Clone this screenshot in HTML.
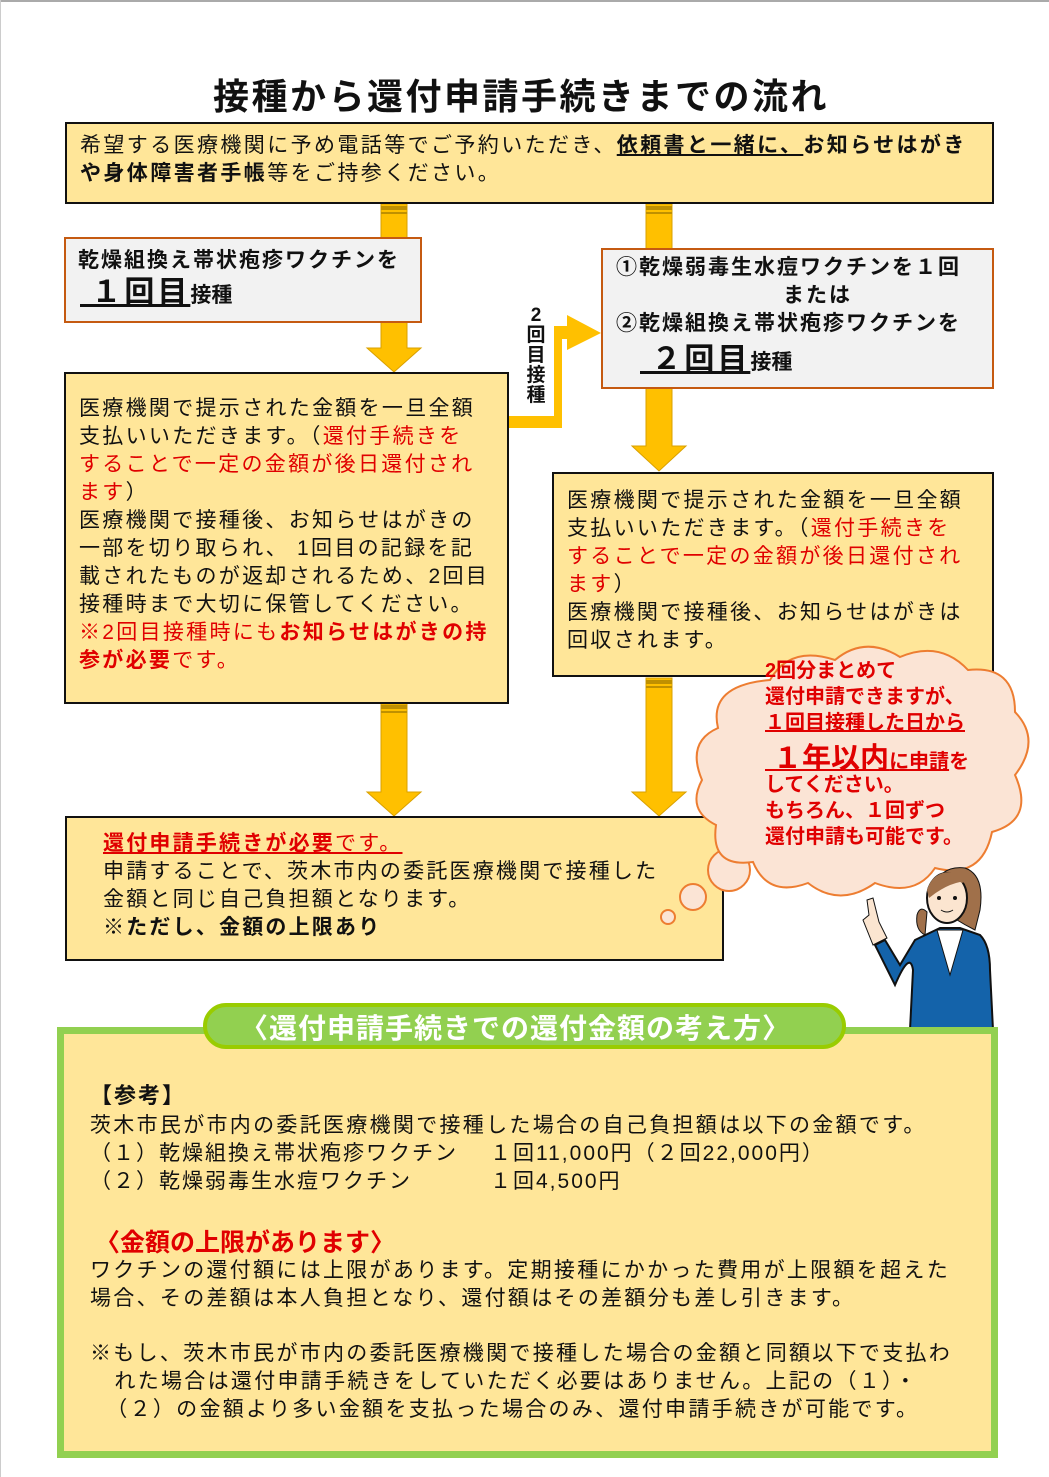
<!DOCTYPE html>
<html><head><meta charset="utf-8">
<style>
body{margin:0;width:1049px;height:1477px;position:relative;background:#fff;font-family:"Liberation Sans","Noto Sans CJK JP",sans-serif;color:#111;overflow:hidden}
.a{position:absolute;white-space:nowrap}
.t{font-size:21px;letter-spacing:2px;line-height:28px}
.box{position:absolute;box-sizing:border-box}
.y{background:#FFE699;border:2px solid #111}
.g{background:#F2F2F2;border:2px solid #C55A11}
.r{color:#E00000}
b{font-weight:bold}
u{text-decoration:underline}
</style></head><body>
<div style="position:absolute;left:0;top:0;width:1049px;height:2px;background:#aaa"></div>
<div style="position:absolute;left:0;top:0;width:1px;height:1477px;background:#ccc"></div>

<svg class="a" style="left:0;top:0" width="1049" height="1477">
 <g fill="#FFC000" stroke="#D9A000" stroke-width="1">
  <path d="M381 204 H407 V348 H421 L394 372 L367 348 H381 Z"/>
  <path d="M646 204 H672 V446 H686 L659 471 L632 446 H646 Z"/>
  <path d="M381 704 H407 V792 H421 L394 816 L367 792 H381 Z"/>
  <path d="M646 678 H672 V792 H686 L659 816 L632 792 H646 Z"/>
  <path d="M509 416 H554 V326 H567 V315 L601 333 L567 350 V339 H562 V428 H509 Z" stroke="none"/>
 </g>
 <g fill="#BF9000"><rect x="381" y="206" width="26" height="4"/><rect x="381" y="212" width="26" height="2"/>
 <rect x="646" y="206" width="26" height="4"/><rect x="646" y="212" width="26" height="2"/>
 <rect x="381" y="705" width="26" height="4"/><rect x="381" y="711" width="26" height="2"/>
 <rect x="646" y="680" width="26" height="4"/><rect x="646" y="686" width="26" height="2"/></g>
</svg>

<div class="a" style="left:213px;top:68px;font-size:36px;font-weight:bold;letter-spacing:2.5px">接種から還付申請手続きまでの流れ</div>

<div class="box y" style="left:65px;top:122px;width:929px;height:82px"></div>
<div class="a t" style="left:80px;top:132px;letter-spacing:2.4px">希望する医療機関に予め電話等でご予約いただき、<b><u>依頼書と一緒に、</u>お知らせはがき</b></div>
<div class="a t" style="left:80px;top:160px;letter-spacing:2.4px"><b>や身体障害者手帳</b>等をご持参ください。</div>

<div class="box g" style="left:64px;top:237px;width:358px;height:86px"></div>
<div class="a" style="left:78px;top:244px;font-size:21px;font-weight:bold;letter-spacing:2px">乾燥組換え帯状疱疹ワクチンを</div>
<div class="a" style="left:80px;top:267px;font-weight:bold;font-size:21px"><u style="font-size:30px;letter-spacing:3px">&nbsp;１回目</u>接種</div>

<div class="box y" style="left:64px;top:372px;width:445px;height:332px"></div>
<div class="a t" style="left:79px;top:395px;letter-spacing:2.3px">医療機関で提示された金額を一旦全額<br>支払いいただきます。（<span class="r">還付手続きを</span><br><span class="r">することで一定の金額が後日還付され</span><br><span class="r">ます</span>）<br>医療機関で接種後、お知らせはがきの<br>一部を切り取られ、 1回目の記録を記<br>載されたものが返却されるため、2回目<br>接種時まで大切に保管してください。<br><span class="r">※2回目接種時にも<b>お知らせはがきの持</b></span><br><span class="r"><b>参が必要</b>です。</span></div>

<div class="a" style="left:525px;top:306px;width:22px;font-size:19px;font-weight:bold;line-height:20px;text-align:center;white-space:normal">2<br>回<br>目<br>接<br>種</div>

<div class="box g" style="left:601px;top:248px;width:393px;height:141px"></div>
<div class="a" style="left:616px;top:254px;font-size:21px;font-weight:bold;line-height:28px;letter-spacing:2px">①乾燥弱毒生水痘ワクチンを１回<br><span style="margin-left:167px">または</span><br>②乾燥組換え帯状疱疹ワクチンを</div>
<div class="a" style="left:640px;top:334px;font-weight:bold;font-size:21px"><u style="font-size:30px;letter-spacing:3px">&nbsp;２回目</u>接種</div>

<div class="box y" style="left:552px;top:472px;width:442px;height:205px"></div>
<div class="a t" style="left:567px;top:487px;letter-spacing:2.3px">医療機関で提示された金額を一旦全額<br>支払いいただきます。（<span class="r">還付手続きを</span><br><span class="r">することで一定の金額が後日還付され</span><br><span class="r">ます</span>）<br>医療機関で接種後、お知らせはがきは<br>回収されます。</div>

<div class="box y" style="left:65px;top:816px;width:659px;height:145px"></div>
<div class="a t" style="left:103px;top:830px;letter-spacing:2.2px"><span class="r"><u><b>還付申請手続きが必要</b>です。 </u></span><br>申請することで、茨木市内の委託医療機関で接種した<br>金額と同じ自己負担額となります。<br><b>※ただし、金額の上限あり</b></div>

<svg class="a" style="left:650px;top:640px" width="399" height="300">
 <g fill="#FBE4D5" stroke="#ED7D31" stroke-width="2">
  <circle cx="79" cy="230" r="21"/><circle cx="43" cy="257" r="13"/><circle cx="18" cy="277" r="7"/>
  <path d="M120 40 Q140 5 185 20 Q215 -5 250 17 Q290 0 318 30 Q365 25 365 72 Q392 100 365 135 Q385 180 342 192 Q332 240 285 228 Q265 258 225 243 Q190 268 158 243 Q118 258 103 222 Q60 228 66 185 Q36 170 52 140 Q36 102 68 88 Q58 45 120 40 Z"/>
 </g>
</svg>
<div class="a" style="left:765px;top:658px;color:#E00000;font-weight:bold;font-size:20px;line-height:26px">2回分まとめて<br>還付申請できますが、<br><u>１回目接種した日から</u></div>
<div class="a" style="left:765px;top:735px;color:#E00000;font-weight:bold;font-size:20px"><u><span style="font-size:29px">&nbsp;１年以内</span>に申請</u>を</div>
<div class="a" style="left:765px;top:772px;color:#E00000;font-weight:bold;font-size:20px;line-height:26px">してください。<br>もちろん、１回ずつ<br>還付申請も可能です。</div>

<svg class="a" style="left:855px;top:860px" width="145" height="170">
 <path d="M78 30 Q85 5 110 8 Q130 15 125 50 L120 70 Q100 60 80 45 Z" fill="#A0704A" stroke="#111"/>
 <path d="M70 75 Q60 70 62 55 Q65 45 72 52 Z" fill="#A0704A" stroke="#111"/>
 <ellipse cx="92" cy="38" rx="20" ry="25" fill="#FBE5D0" stroke="#111" stroke-width="2"/>
 <path d="M72 30 Q80 5 110 15 Q112 25 105 22 Q90 25 74 38 Z" fill="#A0704A"/>
 <circle cx="84" cy="38" r="2" fill="#111"/><circle cx="100" cy="38" r="2" fill="#111"/>
 <path d="M86 50 Q92 54 98 50" stroke="#111" fill="none"/>
 <path d="M55 170 L58 110 Q55 90 40 125 L20 85 L30 80 L45 105 L60 80 L85 68 H105 L125 75 Q135 85 135 110 L138 170 Z" fill="#1463AA" stroke="#111" stroke-width="2"/>
 <path d="M82 70 L95 115 L108 70 Z" fill="#fff" stroke="#111"/>
 <path d="M18 85 L8 60 L14 55 L12 40 L18 38 L24 62 L32 78 Z" fill="#FBE5D0" stroke="#111"/>
</svg>

<div class="box" style="left:57px;top:1027px;width:941px;height:431px;background:#FFE699;border:7px solid #92D050"></div>
<div class="box" style="left:203px;top:1003px;width:643px;height:46px;background:#92D050;border:4px solid #99CC00;border-radius:23px"></div>
<div class="a" style="left:240px;top:1007px;color:#fff;font-size:28px;font-weight:bold;letter-spacing:1px">〈還付申請手続きでの還付金額の考え方〉</div>

<div class="a t" style="left:90px;top:1082px;font-size:22px"><b>【参考】</b></div>
<div class="a t" style="left:90px;top:1112px;letter-spacing:2.3px">茨木市民が市内の委託医療機関で接種した場合の自己負担額は以下の金額です。</div>
<div class="a t" style="left:90px;top:1140px">（１）乾燥組換え帯状疱疹ワクチン</div>
<div class="a t" style="left:490px;top:1140px">１回11,000円（２回22,000円）</div>
<div class="a t" style="left:90px;top:1168px">（２）乾燥弱毒生水痘ワクチン</div>
<div class="a t" style="left:490px;top:1168px">１回4,500円</div>
<div class="a" style="left:95px;top:1223px;font-size:25px;font-weight:bold;color:#E00000">〈金額の上限があります〉</div>
<div class="a t" style="left:90px;top:1257px;letter-spacing:2.3px">ワクチンの還付額には上限があります。定期接種にかかった費用が上限額を超えた<br>場合、その差額は本人負担となり、還付額はその差額分も差し引きます。</div>
<div class="a t" style="left:90px;top:1340px;letter-spacing:2.3px">※もし、茨木市民が市内の委託医療機関で接種した場合の金額と同額以下で支払わ<br>&nbsp;&nbsp;&nbsp;れた場合は還付申請手続きをしていただく必要はありません。上記の（１）・<br>&nbsp;&nbsp;（２）の金額より多い金額を支払った場合のみ、還付申請手続きが可能です。</div>
</body></html>
